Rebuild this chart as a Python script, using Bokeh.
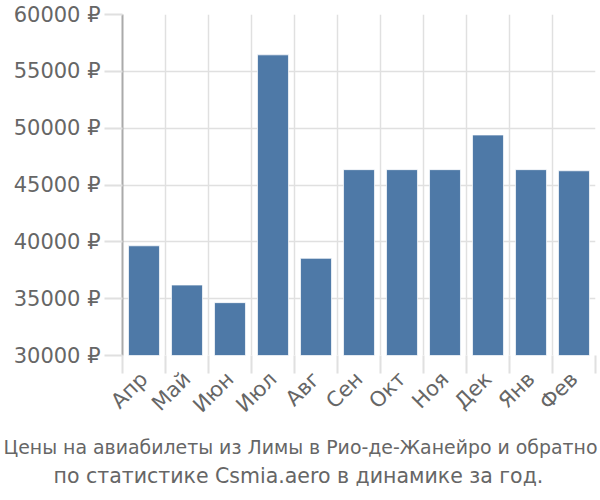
import numpy as np
from bokeh.plotting import figure
from bokeh.models import FixedTicker, Range1d, Title, ColumnDataSource
from bokeh.embed import file_html
from bokeh.resources import INLINE

months = ["Апр", "Май", "Июн", "Июл", "Авг", "Сен", "Окт", "Ноя", "Дек", "Янв", "Фев"]
prices = [39650, 36200, 34650, 56450, 38550, 46350, 46350, 46350, 49400, 46350, 46250]
y_ticks = [30000, 35000, 40000, 45000, 50000, 55000, 60000]
title_lines = ["Цены на авиабилеты из Лимы в Рио-де-Жанейро и обратно",
               "по статистике Csmia.aero в динамике за год."]

FONT = "DejaVu Sans"
GRAY = "#666666"
GRID = "#e0e0e0"

xs = np.arange(len(months)) + 0.5
src = ColumnDataSource(dict(x=xs, top=prices))

p = figure(width=600, height=500, output_backend="svg", toolbar_location=None,
           x_range=Range1d(0, len(months)), y_range=Range1d(30000, 60000),
           min_border_left=122, min_border_right=5, min_border_top=14, min_border_bottom=145)
p.outline_line_color = None

p.vbar(x="x", top="top", bottom=30000, width=0.72, source=src,
       fill_color="#4e79a7", line_color="white", line_alpha=0.7, line_width=1)

# x axis: labels at category centres, tick marks at boundaries
xa = p.xaxis[0]
xa.ticker = FixedTicker(ticks=list(xs), minor_ticks=list(range(len(months) + 1)))
xa.major_label_overrides = {float(x): m for x, m in zip(xs, months)}
xa.major_label_orientation = np.pi / 4
xa.major_tick_line_color = None
xa.major_tick_out = 18
xa.major_tick_in = 0
xa.minor_tick_line_color = GRID
xa.minor_tick_line_width = 2
xa.minor_tick_out = 18
xa.minor_tick_in = 0
xa.axis_line_color = None
xa.major_label_text_font = FONT
xa.major_label_text_font_size = "21px"
xa.major_label_text_color = GRAY
xa.major_label_standoff = 2

ya = p.yaxis[0]
ya.ticker = FixedTicker(ticks=y_ticks)
ya.major_label_overrides = {t: f"{t} ₽" for t in y_ticks}
ya.major_tick_line_color = GRID
ya.major_tick_line_width = 2
ya.major_tick_out = 18
ya.major_tick_in = 0
ya.minor_tick_line_color = None
ya.axis_line_color = "#aaaaaa"
ya.axis_line_width = 2
ya.major_label_text_font = FONT
ya.major_label_text_font_size = "21px"
ya.major_label_text_color = GRAY
ya.major_label_standoff = 4

p.xgrid.ticker = FixedTicker(ticks=list(range(len(months) + 1)))
p.ygrid.ticker = FixedTicker(ticks=y_ticks)
p.xgrid.grid_line_color = GRID
p.ygrid.grid_line_color = GRID
p.xgrid.grid_line_width = 1.5
p.ygrid.grid_line_width = 1.5

offsets = [-119, -69]
standoffs = [10, -1]
sizes = ["18.9px", "20.5px"]
for line, off, so, fs in zip(title_lines, offsets, standoffs, sizes):
    t = Title(text=line, align="left", text_font=FONT, text_font_size=fs,
              text_color=GRAY, text_font_style="normal",
              standoff=so, offset=off)
    p.add_layout(t, "below")

open("out.html", "w").write(file_html(p, INLINE))
